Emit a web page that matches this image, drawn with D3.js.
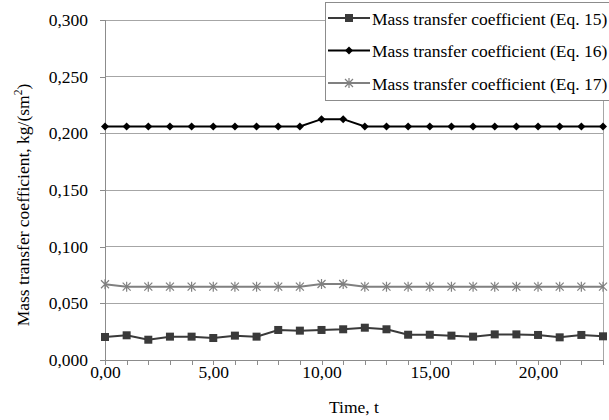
<!DOCTYPE html>
<html><head><meta charset="utf-8">
<script src="https://cdn.jsdelivr.net/npm/d3@7"></script>
<style>body{margin:0;background:#fff}svg{display:block}</style>
</head><body>
<svg id="c" width="609" height="420"></svg>
<script>
const times = d3.range(0, 24);
const eq15 = [0.0203,0.0218,0.0179,0.0206,0.0206,0.0194,0.0215,0.0206,0.0265,0.0259,0.0265,0.0271,0.0285,0.0271,0.0223,0.0223,0.0215,0.0206,0.0226,0.0226,0.0221,0.0200,0.0221,0.0209];
const eq16 = [0.206,0.206,0.206,0.206,0.206,0.206,0.206,0.206,0.206,0.206,0.2125,0.2125,0.206,0.206,0.206,0.206,0.206,0.206,0.206,0.206,0.206,0.206,0.206,0.206];
const eq17 = [0.0668,0.0647,0.0647,0.0647,0.0647,0.0647,0.0647,0.0647,0.0647,0.0647,0.0671,0.0671,0.0647,0.0647,0.0647,0.0647,0.0647,0.0647,0.0647,0.0647,0.0647,0.0647,0.0647,0.0647];
const seriesNames = ["Mass transfer coefficient (Eq. 15)","Mass transfer coefficient (Eq. 16)","Mass transfer coefficient (Eq. 17)"];
const yTicks = [0,0.05,0.1,0.15,0.2,0.25,0.3];
const xTicks = [0,5,10,15,20];

const svg = d3.select("#c");
const L=105,R=603,T=20,B=360;
const x = d3.scaleLinear().domain([0,23]).range([L,R]);
const y = d3.scaleLinear().domain([0,0.3]).range([B,T]);
const font = "'Liberation Serif','Times New Roman',serif";
const FS = 17.5;
const fmt = d => d3.format(".3f")(d).replace(".",",");
const fmtX = d => d3.format(".2f")(d).replace(".",",");

// gridlines
svg.append("g").selectAll("line").data(yTicks.filter(d=>d>0)).join("line")
  .attr("x1",L).attr("x2",R).attr("y1",d=>y(d)).attr("y2",d=>y(d))
  .attr("stroke","#a6a6a6").attr("stroke-width",1).attr("shape-rendering","crispEdges");
// right border
svg.append("line").attr("x1",R).attr("x2",R).attr("y1",T).attr("y2",B).attr("stroke","#a6a6a6").attr("shape-rendering","crispEdges");

// y axis
const ya = svg.append("g").attr("transform",`translate(${L},0)`)
  .call(d3.axisLeft(y).tickValues(yTicks).tickFormat(fmt).tickSize(5).tickPadding(12));
// x axis
const xa = svg.append("g").attr("transform",`translate(0,${B})`)
  .call(d3.axisBottom(x).tickValues(times).tickFormat(d=>xTicks.includes(d)?fmtX(d):"").tickSize(5).tickPadding(1));
[ya,xa].forEach(g=>{
  g.attr("font-family",font).attr("font-size",FS);
  g.selectAll("path,line").attr("stroke","#8c8c8c").attr("shape-rendering","crispEdges");
  g.selectAll("text").attr("font-family",font).attr("font-size",FS).attr("fill","#000");
});

svg.append("text").attr("x",354).attr("y",413).attr("text-anchor","middle")
  .attr("font-family",font).attr("font-size",FS).text("Time, t");
const yl = svg.append("text").attr("transform",`translate(29,205) rotate(-90)`).attr("text-anchor","middle")
  .attr("font-family",font).attr("font-size",FS);
yl.append("tspan").text("Mass transfer coefficient, kg/(sm");
yl.append("tspan").attr("font-size",11.5).attr("dy",-7).text("2");
yl.append("tspan").attr("dy",7).text(")");

const line = d3.line().x((d,i)=>x(times[i])).y(d=>y(d));
const colors = ["#3a3a3a","#000000","#808080"];
const datas = [eq15,eq16,eq17];

function marker(g,type,cx,cy,col){
  if(type===0){
    g.append("rect").attr("x",cx-4).attr("y",cy-4).attr("width",8).attr("height",8).attr("fill",col);
  } else if(type===1){
    g.append("path").attr("d",`M${cx},${cy-4}L${cx+4},${cy}L${cx},${cy+4}L${cx-4},${cy}Z`).attr("fill",col);
  } else {
    const s=4;
    g.append("path").attr("d",`M${cx-s},${cy-s}L${cx+s},${cy+s}M${cx-s},${cy+s}L${cx+s},${cy-s}M${cx},${cy-s-1}L${cx},${cy+s+1}`)
      .attr("stroke",col).attr("stroke-width",1.2).attr("fill","none");
  }
}

datas.forEach((data,k)=>{
  const g = svg.append("g");
  g.append("path").datum(data).attr("d",line).attr("fill","none").attr("stroke",colors[k]).attr("stroke-width",2);
  data.forEach((v,i)=>marker(g,k,x(times[i]),y(v),colors[k]));
});

// legend
const lg = svg.append("g");
lg.append("rect").attr("x",325.5).attr("y",2.5).attr("width",290).attr("height",98)
  .attr("fill","#fff").attr("stroke","#8c8c8c");
const rowsY=[18,50.5,83];
seriesNames.forEach((n,k)=>{
  lg.append("line").attr("x1",328).attr("x2",370).attr("y1",rowsY[k]).attr("y2",rowsY[k]).attr("stroke",colors[k]).attr("stroke-width",2);
  marker(lg,k,349,rowsY[k],colors[k]);
  lg.append("text").attr("x",372).attr("y",rowsY[k]+6.5).attr("font-family",font).attr("font-size",FS).text(n);
});
</script>
</body></html>
